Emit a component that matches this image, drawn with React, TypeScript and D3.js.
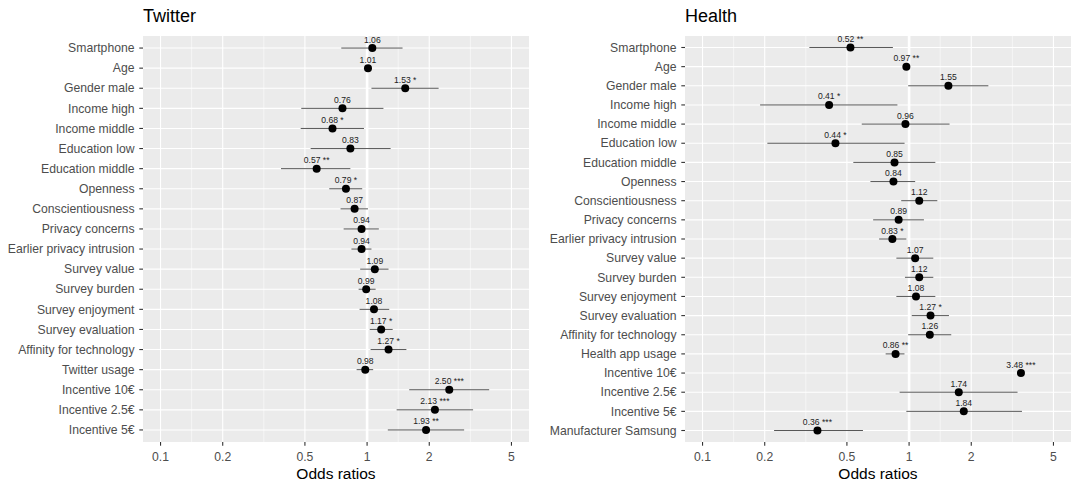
import React from 'react';
import * as d3 from 'd3';

// Twitter model (odds ratios with 95% CI)
const twitterLabels = [
  'Smartphone', 'Age', 'Gender male', 'Income high', 'Income middle', 'Education low',
  'Education middle', 'Openness', 'Conscientiousness', 'Privacy concerns',
  'Earlier privacy intrusion', 'Survey value', 'Survey burden', 'Survey enjoyment',
  'Survey evaluation', 'Affinity for technology', 'Twitter usage', 'Incentive 10€',
  'Incentive 2.5€', 'Incentive 5€',
];
const twitterOR = [1.06, 1.01, 1.53, 0.76, 0.68, 0.83, 0.57, 0.79, 0.87, 0.94, 0.94, 1.09, 0.99, 1.08, 1.17, 1.27, 0.98, 2.50, 2.13, 1.93];
const twitterLow = [0.75, 1.0, 1.05, 0.48, 0.477, 0.533, 0.383, 0.656, 0.744, 0.77, 0.84, 0.926, 0.91, 0.92, 1.03, 1.04, 0.89, 1.6, 1.39, 1.26];
const twitterHigh = [1.485, 1.02, 2.22, 1.2, 0.966, 1.30, 0.83, 0.947, 1.01, 1.14, 1.05, 1.27, 1.10, 1.28, 1.33, 1.55, 1.07, 3.9, 3.26, 2.95];
const twitterStars = ['', '', '*', '', '*', '', '**', '*', '', '', '', '', '', '', '*', '*', '', '***', '***', '**'];

// Health model
const healthLabels = [
  'Smartphone', 'Age', 'Gender male', 'Income high', 'Income middle', 'Education low',
  'Education middle', 'Openness', 'Conscientiousness', 'Privacy concerns',
  'Earlier privacy intrusion', 'Survey value', 'Survey burden', 'Survey enjoyment',
  'Survey evaluation', 'Affinity for technology', 'Health app usage', 'Incentive 10€',
  'Incentive 2.5€', 'Incentive 5€', 'Manufacturer Samsung',
];
const healthOR = [0.52, 0.97, 1.55, 0.41, 0.96, 0.44, 0.85, 0.84, 1.12, 0.89, 0.83, 1.07, 1.12, 1.08, 1.27, 1.26, 0.86, 3.48, 1.74, 1.84, 0.36];
const healthLow: (number | null)[] = [0.329, 0.96, 0.99, 0.19, 0.59, 0.206, 0.537, 0.65, 0.916, 0.67, 0.716, 0.868, 0.955, 0.868, 1.03, 0.99, 0.77, null, 0.90, 0.97, 0.222];
const healthHigh: (number | null)[] = [0.835, 0.98, 2.42, 0.878, 1.57, 0.951, 1.34, 1.07, 1.37, 1.18, 0.97, 1.31, 1.31, 1.34, 1.56, 1.6, 0.95, null, 3.35, 3.52, 0.598];
const healthStars = ['**', '**', '', '*', '', '*', '', '', '', '', '*', '', '', '', '*', '', '**', '***', '', '', '***'];

const xBreaks = [0.1, 0.2, 0.5, 1, 2, 5];
const xLimits = [0.1, 5];

const FONT = '"Liberation Sans", Arial, Helvetica, sans-serif';

interface PanelProps {
  title: string;
  labels: string[];
  or: number[];
  low: (number | null)[];
  high: (number | null)[];
  stars: string[];
  left: number;
  right: number;
}

function Panel(props: PanelProps) {
  const top = 36;
  const bottom = 442;
  const lo = Math.log10(xLimits[0]);
  const hi = Math.log10(xLimits[1]);
  const span = hi - lo;
  const x = d3.scaleLog()
    .domain([Math.pow(10, lo - 0.05 * span), Math.pow(10, hi + 0.05 * span)])
    .range([props.left, props.right]);
  const y = d3.scalePoint<string>()
    .domain(props.labels)
    .range([top, bottom])
    .padding(0.6);

  // minor breaks at log-midpoints (none between 0.5 and 1 in the original)
  const minor: number[] = [];
  for (let i = 0; i < xBreaks.length - 1; i++) {
    if (xBreaks[i] === 0.5) continue;
    minor.push(Math.sqrt(xBreaks[i] * xBreaks[i + 1]));
  }

  const cx = (props.left + props.right) / 2;

  return (
    <g fontFamily={FONT}>
      <text x={props.left} y={22} fontSize={18} fill="#000">{props.title}</text>
      <rect x={props.left} y={top} width={props.right - props.left} height={bottom - top} fill="#EBEBEB" />
      {minor.map(m => (
        <line key={'mi' + m} x1={x(m)} x2={x(m)} y1={top} y2={bottom} stroke="#fff" strokeWidth={0.55} />
      ))}
      {xBreaks.map(b => (
        <line key={'ma' + b} x1={x(b)} x2={x(b)} y1={top} y2={bottom} stroke="#fff" strokeWidth={1.1} />
      ))}
      {props.labels.map(l => (
        <line key={'h' + l} x1={props.left} x2={props.right} y1={y(l)} y2={y(l)} stroke="#fff" strokeWidth={1.1} />
      ))}
      <line x1={x(1)} x2={x(1)} y1={top} y2={bottom} stroke="#fff" strokeWidth={2.6} />

      {props.labels.map((l, i) => {
        const yy = y(l) as number;
        const a = props.low[i];
        const b = props.high[i];
        return (
          <g key={'d' + l}>
            {a !== null && b !== null && (
              <line x1={x(a)} x2={x(b)} y1={yy} y2={yy} stroke="#444" strokeWidth={0.9} />
            )}
            <circle cx={x(props.or[i])} cy={yy} r={4} fill="#000" />
            <text x={x(props.or[i])} y={yy - 5.5} fontSize={8.6} fill="#222" textAnchor="middle">
              {props.or[i].toFixed(2) + (props.stars[i] ? ' ' + props.stars[i] : '')}
            </text>
          </g>
        );
      })}

      {props.labels.map(l => (
        <g key={'yt' + l}>
          <line x1={props.left - 3.7} x2={props.left} y1={y(l)} y2={y(l)} stroke="#333" strokeWidth={1.1} />
          <text x={props.left - 8.5} y={(y(l) as number) + 4.2} fontSize={12.2} fill="#4d4d4d" textAnchor="end">{l}</text>
        </g>
      ))}
      {xBreaks.map(b => (
        <g key={'xt' + b}>
          <line x1={x(b)} x2={x(b)} y1={bottom} y2={bottom + 3.7} stroke="#333" strokeWidth={1.1} />
          <text x={x(b)} y={bottom + 18.5} fontSize={12.2} fill="#4d4d4d" textAnchor="middle">{String(b)}</text>
        </g>
      ))}
      <text x={cx} y={479} fontSize={15.5} fill="#000" textAnchor="middle">Odds ratios</text>
    </g>
  );
}

export default function App() {
  return (
    <svg width={1071} height={485} style={{ position: 'absolute', left: 0, top: 0, background: '#fff' }}>
      <rect width={1071} height={485} fill="#fff" />
      <Panel title="Twitter" labels={twitterLabels} or={twitterOR} low={twitterLow} high={twitterHigh}
        stars={twitterStars} left={143} right={529} />
      <Panel title="Health" labels={healthLabels} or={healthOR} low={healthLow} high={healthHigh}
        stars={healthStars} left={685} right={1071} />
    </svg>
  );
}
